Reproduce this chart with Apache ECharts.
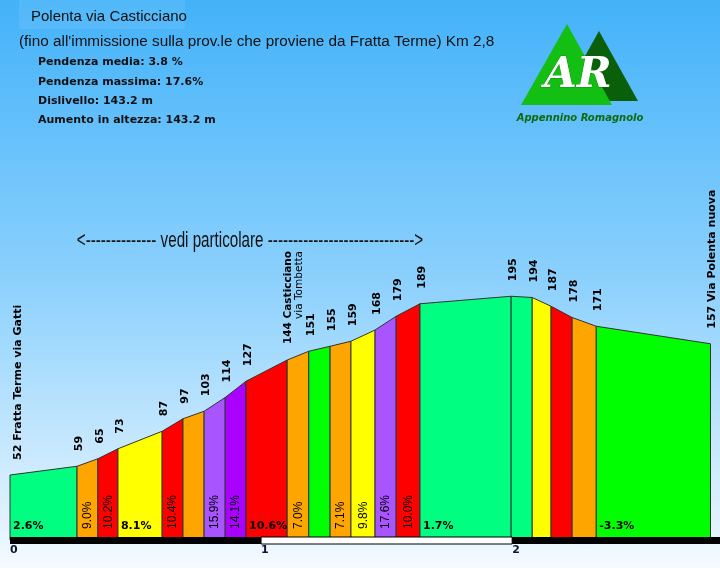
<!DOCTYPE html>
<html>
<head>
<meta charset="utf-8">
<title>Polenta via Casticciano</title>
<script src="https://cdn.jsdelivr.net/npm/echarts@6/dist/echarts.min.js"></script>
<style>
  html, body { margin: 0; padding: 0; }
  #altimetria { width: 720px; height: 568px; }
</style>
</head>
<body>
<div id="altimetria"></div>
<script>
// punti del profilo: distanza (km) e quota (m)
const distanze = [0, 0.267, 0.35, 0.43, 0.606, 0.689, 0.773, 0.857, 0.94, 1.104, 1.19,
  1.275, 1.358, 1.454, 1.538, 1.633, 1.996, 2.08, 2.155, 2.239, 2.335, 2.79]
const quote = [52, 59, 65, 73, 87, 97, 103, 114, 127, 144, 151,
  155, 159, 168, 179, 189, 195, 194, 187, 178, 171, 157]
const etichetteQuota = ['52 Fratta Terme via Gatti', '59', '65', '73', '87', '97', '103', '114', '127',
  '144 Casticciano\nvia Tombetta', '151', '155', '159', '168', '179', '189', '195', '194', '187', '178', '171',
  '157 Via Polenta nuova']
// pendenza di ogni tratto
const pendenze = ['2.6%', '9.0%', '10.2%', '8.1%', '10.4%', '', '15.9%', '14.1%', '10.6%', '7.0%', '',
  '7.1%', '9.8%', '17.6%', '10.0%', '1.7%', '', '', '', '', '-3.3%']
const coloriTratti = ['#00ff80', '#ffa500', '#ff0000', '#ffff00', '#ff0000', '#ffa500', '#a855ff', '#aa00ff',
  '#ff0000', '#ffa500', '#00ff00', '#ffa500', '#ffff00', '#a855ff', '#ff0000', '#00ff80', '#00ff80',
  '#ffff00', '#ff0000', '#ffa500', '#00ff00']
// scala chilometrica
const kmScala = [[0, 1], [1, 2], [2, 2.8]]
const kmEtichette = ['0', '1', '2']

const ctx = document.createElement('canvas').getContext('2d')
function larghezza(testo, font) {
  ctx.font = font
  return ctx.measureText(testo).width
}

const tratti = []
for (let i = 0; i < distanze.length - 1; i++) {
  tratti.push([distanze[i], quote[i], distanze[i + 1], quote[i + 1]])
}
const punti = distanze.map((d, i) => [d, quote[i]])

const fontQuota = 'bold 11px "DejaVu Sans"'
const fontQuotaB = 'bold 10.5px "DejaVu Sans"'
const fontQuotaN = '10.5px "DejaVu Sans"'

const chart = echarts.init(document.getElementById('altimetria'))
const option = {
  backgroundColor: {
    type: 'linear', x: 0, y: 0, x2: 0, y2: 1,
    colorStops: [
      { offset: 0, color: '#43b2f9' },
      { offset: 0.5, color: '#8dd1fd' },
      { offset: 0.94, color: '#e6f4fe' },
      { offset: 1, color: '#f6fbff' }
    ]
  },
  animation: false,
  grid: { left: 10, right: 7, top: 40, bottom: 28 },
  xAxis: {
    type: 'value', min: 0, max: 2.8, interval: 1,
    splitLine: { show: false }, axisLine: { show: false }, axisTick: { show: false },
    axisLabel: {
      margin: 5, align: 'left', color: '#111133', fontWeight: 'bold', fontSize: 11,
      fontFamily: 'DejaVu Sans',
      formatter: v => (Number.isInteger(v) ? kmEtichette[v] || '' : '')
    }
  },
  yAxis: {
    type: 'value', min: 0, max: 400, show: false, splitLine: { show: false }
  },
  graphic: [
    { type: 'rect', shape: { x: 19, y: 0, width: 166, height: 29 }, style: { fill: 'rgba(255,255,255,0.08)' } },
    { type: 'text', x: 31, y: 17, style: { text: 'Polenta via Casticciano', font: '15px "Liberation Sans"', fill: '#111', verticalAlign: 'middle' } },
    { type: 'text', x: 19, y: 42, style: { text: "(fino all'immissione sulla prov.le che proviene da Fratta Terme) Km 2,8", font: '15.3px "Liberation Sans"', fill: '#111', verticalAlign: 'middle' } },
    { type: 'text', x: 38, y: 62, style: { text: 'Pendenza media: 3.8 %', font: 'bold 11px "DejaVu Sans"', fill: '#111', verticalAlign: 'middle' } },
    { type: 'text', x: 38, y: 82, style: { text: 'Pendenza massima: 17.6%', font: 'bold 11px "DejaVu Sans"', fill: '#111', verticalAlign: 'middle' } },
    { type: 'text', x: 38, y: 101, style: { text: 'Dislivello: 143.2 m', font: 'bold 11px "DejaVu Sans"', fill: '#111', verticalAlign: 'middle' } },
    { type: 'text', x: 38, y: 120, style: { text: 'Aumento in altezza: 143.2 m', font: 'bold 11px "DejaVu Sans"', fill: '#111', verticalAlign: 'middle' } },
    // logo
    { type: 'polygon', shape: { points: [[560, 101], [599, 31], [638, 101]] }, style: { fill: '#0a600a' } },
    { type: 'polygon', shape: { points: [[521, 105], [567, 24], [612, 105]] }, style: { fill: '#12bf12' } },
    { type: 'text', x: 578, y: 76, style: { text: 'AR', font: 'italic bold 42px "DejaVu Serif"', fill: '#fff', stroke: '#0a600a', lineWidth: 0.6, align: 'center', verticalAlign: 'middle' } },
    { type: 'text', x: 580, y: 118, style: { text: 'Appennino Romagnolo', font: 'italic bold 10px "DejaVu Sans"', fill: '#0f6a0f', align: 'center', verticalAlign: 'middle' } },
    {
      type: 'text', x: 250, y: 241, scaleX: 0.69, originX: 0, originY: 0,
      style: {
        text: '<-------------- vedi particolare ----------------------------->',
        font: '22px "Liberation Sans"', fill: '#111', align: 'center', verticalAlign: 'middle'
      }
    }
  ],
  series: [
    {
      type: 'custom',
      data: tratti,
      encode: { x: [0, 2], y: [1, 3] },
      renderItem(params, api) {
        const i = params.dataIndex
        const a = api.coord([api.value(0), 0])
        const b = api.coord([api.value(0), api.value(1)])
        const c = api.coord([api.value(2), api.value(3)])
        const d = api.coord([api.value(2), 0])
        const children = [{
          type: 'polygon',
          shape: { points: [a, b, c, d] },
          style: { fill: coloriTratti[i], stroke: '#333', lineWidth: 1 }
        }]
        const testo = pendenze[i]
        if (testo) {
          if (d[0] - a[0] > 35) {
            children.push({
              type: 'text', x: a[0] + 3, y: a[1] - 14,
              style: { text: testo, font: 'bold 11px "DejaVu Sans"', fill: '#000', verticalAlign: 'middle' }
            })
          } else {
            children.push({
              type: 'text', x: (a[0] + d[0]) / 2 + 0.5, y: a[1] - 11, rotation: Math.PI / 2,
              style: { text: testo, font: '12px "Liberation Sans"', fill: '#000', verticalAlign: 'middle' }
            })
          }
        }
        return { type: 'group', children }
      },
      z: 2
    },
    {
      type: 'custom',
      data: punti,
      renderItem(params, api) {
        const p = api.coord([api.value(0), api.value(1)])
        const testo = etichetteQuota[params.dataIndex]
        const righe = testo.split('\n')
        if (righe.length > 1) {
          const l = larghezza(righe[0], fontQuotaB)
          return {
            type: 'text', x: p[0] + 7, y: p[1] - 16 - l, rotation: Math.PI / 2,
            style: {
              text: '{b|' + righe[0] + '}\n{n|' + righe[1] + '}',
              align: 'right', verticalAlign: 'middle', fill: '#000',
              rich: {
                b: { font: fontQuotaB, lineHeight: 11, align: 'right' },
                n: { font: fontQuotaN, lineHeight: 11, align: 'right' }
              }
            }
          }
        }
        return {
          type: 'text', x: Math.max(p[0] + 2, 18), y: p[1] - 15, rotation: Math.PI / 2,
          style: { text: testo, font: fontQuota, fill: '#000', verticalAlign: 'middle' }
        }
      },
      z: 3
    },
    {
      type: 'custom',
      data: kmScala,
      encode: { x: [0, 1] },
      renderItem(params, api) {
        const a = api.coord([api.value(0), 0])
        const b = api.coord([api.value(1), 0])
        const ultimo = params.dataIndex === kmScala.length - 1
        const x2 = ultimo ? api.getWidth() : b[0]
        const bianco = params.dataIndex % 2 === 1
        return {
          type: 'rect',
          shape: { x: a[0], y: a[1] - 3, width: x2 - a[0], height: 7 },
          style: bianco ? { fill: '#fff', stroke: '#000', lineWidth: 1 } : { fill: '#000' }
        }
      },
      z: 4
    }
  ]
}
chart.setOption(option)
</script>
</body>
</html>
